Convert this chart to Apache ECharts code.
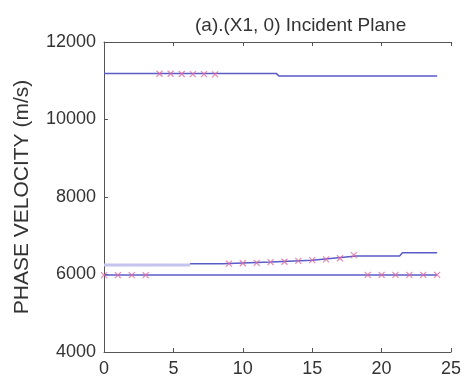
<!DOCTYPE html>
<html>
<head>
<meta charset="utf-8">
<script src="https://cdn.jsdelivr.net/npm/echarts@6/dist/echarts.min.js"></script>
<style>
  html, body { margin: 0; padding: 0; background: #fff; }
  #chart { width: 464px; height: 385px; }
</style>
</head>
<body>
<div id="chart"></div>
<script>
// 刻度
const xTicks = [0, 5, 10, 15, 20, 25];
const yTicks = [4000, 6000, 8000, 10000, 12000];

// 曲线 (x, 相速度)
const upperLine = [[0, 11190], [12.4, 11190], [12.6, 11125], [24, 11125]];
const middleLineA = [[0, 6245], [6.2, 6245]];
const middleLineB = [[6.2, 6275], [8.5, 6275], [12, 6320], [15, 6370], [18.2, 6480], [21.3, 6480], [21.5, 6560], [24, 6560]];
const lowerLine = [[0, 5990], [24, 5990]];

// 标记点
const upperMarks = [[4, 11180], [4.8, 11180], [5.6, 11175], [6.4, 11170], [7.2, 11170], [8, 11165]];
const middleMarks = [[9, 6280], [10, 6290], [11, 6300], [12, 6320], [13, 6330], [14, 6350], [15, 6370], [16, 6390], [17, 6420], [18, 6500]];
const lowerMarksL = [[0, 5985], [1, 5985], [2, 5985], [3, 5985]];
const lowerMarksR = [[19, 5990], [20, 5990], [21, 5990], [22, 5990], [23, 5990], [24, 5990]];

const lineColor = "#5b5bc8";
const markColor = "#e06aa0";
const crossPath = "path://M0,0L10,10M10,0L0,10";

function lineSeries(data, width, color) {
  return {
    type: "line",
    data: data,
    showSymbol: false,
    lineStyle: { color: color, width: width },
    silent: true,
    z: 2,
  };
}

function markSeries(data) {
  return {
    type: "scatter",
    data: data,
    symbol: crossPath,
    symbolSize: 6,
    itemStyle: { color: "transparent", borderColor: markColor, borderWidth: 1.2 },
    z: 3,
  };
}

const chart = echarts.init(document.getElementById("chart"));
const font = "Liberation Sans, Arial, sans-serif";
const textColor = "#333";

chart.setOption({
  animation: false,
  backgroundColor: "#fff",
  title: {
    text: "(a).(X1, 0) Incident Plane",
    left: 190,
    top: 11,
    textStyle: { fontFamily: font, fontSize: 19, fontWeight: "normal", color: textColor },
  },
  grid: { left: 104, top: 42, right: 4, bottom: 33 },
  xAxis: [
    {
      type: "value",
      min: xTicks[0],
      max: xTicks[xTicks.length - 1],
      interval: 5,
      axisLine: { lineStyle: { color: "#555" } },
      axisTick: { inside: true, length: 4, lineStyle: { color: "#555" } },
      axisLabel: { fontFamily: font, fontSize: 18, color: textColor, margin: 8 },
      splitLine: { show: false },
    },
    {
      type: "value",
      position: "top",
      min: xTicks[0],
      max: xTicks[xTicks.length - 1],
      interval: 5,
      axisLine: { show: true, lineStyle: { color: "#555" } },
      axisTick: { inside: true, length: 4, lineStyle: { color: "#555" } },
      axisLabel: { show: false },
      splitLine: { show: false },
    },
  ],
  yAxis: {
    type: "value",
    min: yTicks[0],
    max: yTicks[yTicks.length - 1],
    interval: 2000,
    name: "PHASE VELOCITY (m/s)",
    nameLocation: "middle",
    nameGap: 71,
    nameTextStyle: { fontFamily: font, fontSize: 21, color: textColor },
    axisLine: { show: true, lineStyle: { color: "#555" } },
    axisTick: { show: true, inside: true, length: 4, lineStyle: { color: "#555" } },
    axisLabel: { fontFamily: font, fontSize: 18, color: textColor, margin: 8, formatter: (v) => String(v) },
    splitLine: { show: false },
  },
  series: [
    lineSeries(upperLine, 1.5, lineColor),
    lineSeries(middleLineA, 3, "#c4c4ee"),
    lineSeries(middleLineB, 1.5, lineColor),
    lineSeries(lowerLine, 1.5, lineColor),
    markSeries(upperMarks),
    markSeries(middleMarks),
    markSeries(lowerMarksL),
    markSeries(lowerMarksR),
  ],
});
</script>
</body>
</html>
